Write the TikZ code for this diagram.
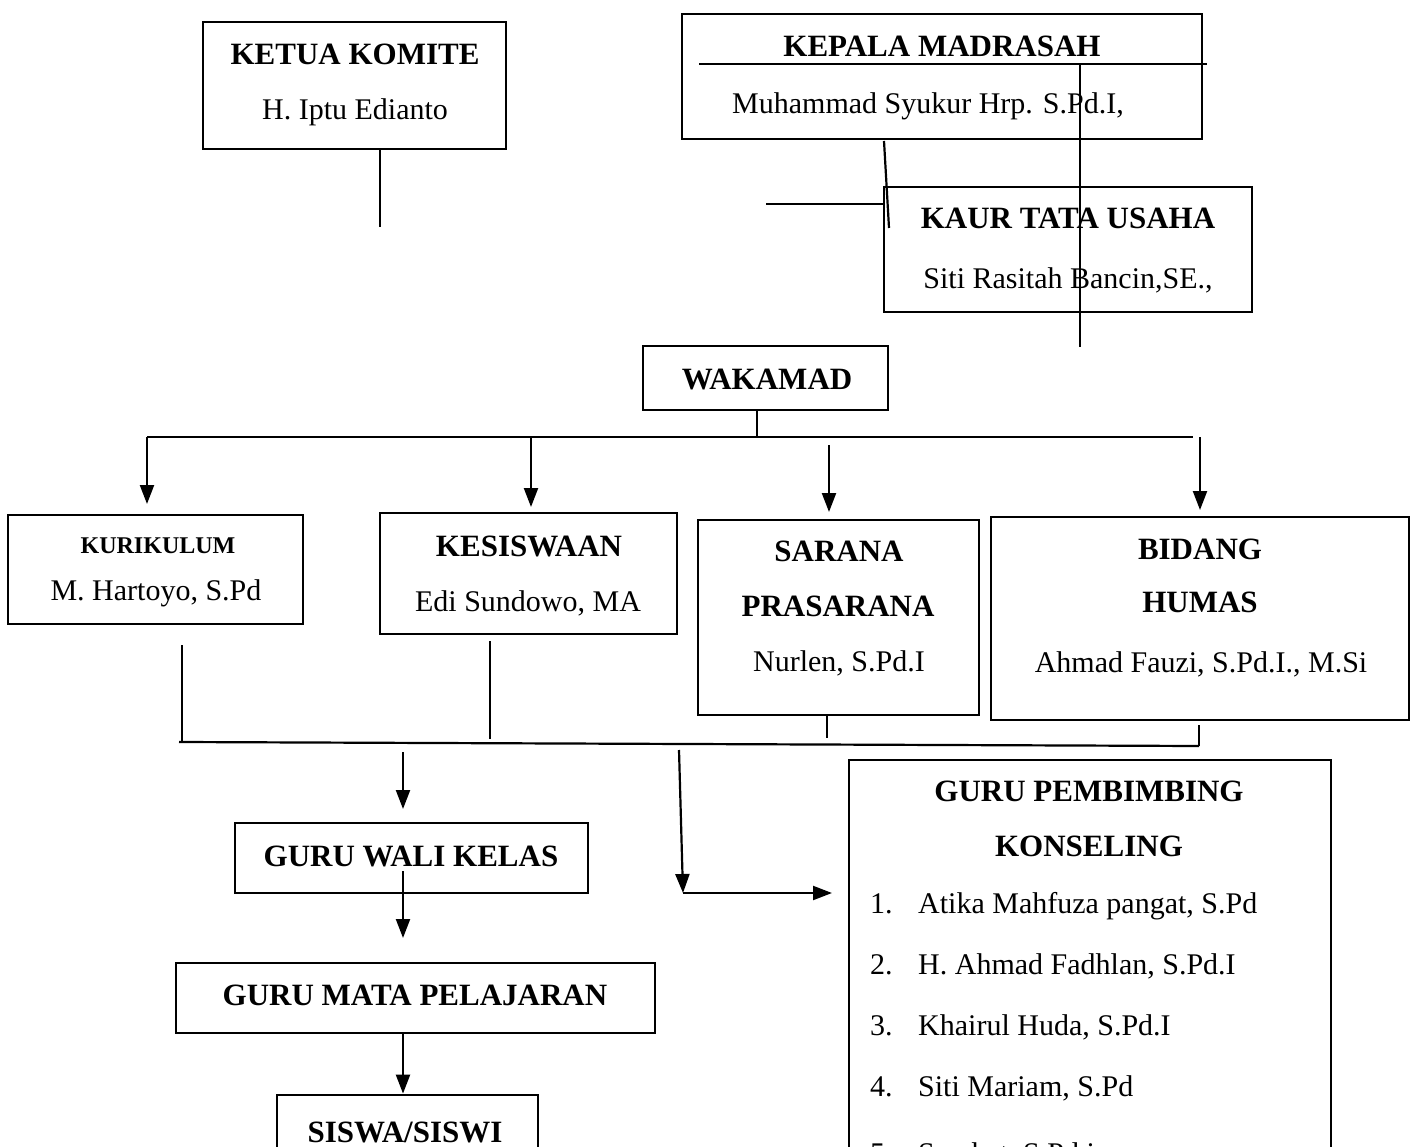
\documentclass[tikz,border=0pt]{standalone}
\usepackage{fontspec}
\setmainfont{Liberation Serif}
\usetikzlibrary{arrows.meta}
\begin{document}
\begin{tikzpicture}[x=1pt,y=-1pt,
  box/.style={draw, line width=2.8pt, inner sep=0pt},
  ln/.style={line width=2.2pt},
  arr/.style={ln, -{Triangle[width=14pt,length=19pt]}},
  tb/.style={font=\fontsize{31}{36}\selectfont\bfseries, anchor=base, inner sep=0pt},
  tbs/.style={font=\fontsize{24}{28}\selectfont\bfseries, anchor=base, inner sep=0pt},
  tr/.style={font=\fontsize{30}{36}\selectfont, anchor=base, inner sep=0pt},
  tl/.style={font=\fontsize{30}{36}\selectfont, anchor=base west, inner sep=0pt}]
\useasboundingbox (0,0) rectangle (1416,1147);
\fill[white] (0,0) rectangle (1416,1147);
\clip (0,0) rectangle (1416,1147);
% boxes
\node[box, minimum width=303pt, minimum height=127pt] (ketua) at (354.5,85.5) {};
\node[box, minimum width=520pt, minimum height=125pt] (kepala) at (942,76.5) {};
\node[box, minimum width=368pt, minimum height=125pt] (kaur) at (1068,249.5) {};
\node[box, minimum width=245pt, minimum height=64pt] (wakamad) at (765.5,378) {};
\node[box, minimum width=295pt, minimum height=109pt] (kurikulum) at (155.5,569.5) {};
\node[box, minimum width=297pt, minimum height=121pt] (kesiswaan) at (528.5,573.5) {};
\node[box, minimum width=281pt, minimum height=195pt] (sarana) at (838.5,617.5) {};
\node[box, minimum width=418pt, minimum height=203pt] (bidang) at (1200,618.5) {};
\node[box, minimum width=353pt, minimum height=70pt] (wali) at (411.5,858) {};
\node[box, minimum width=479pt, minimum height=70pt] (mapel) at (415.5,998) {};
\node[box, minimum width=261pt, minimum height=95pt] (siswa) at (407.5,1142.5) {};
\node[box, minimum width=482pt, minimum height=440pt] (bk) at (1090,980) {};
% texts
\node[tb] (t1) at (355,65) {KETUA KOMITE};
\node[tr] (t2) at (355,120) {H. Iptu Edianto};
\node[tb] (t3) at (942,57) {KEPALA MADRASAH};
\node[tr] (t4) at (928,114) {Muhammad Syukur Hrp. S.Pd.I,};
\node[tb] (t5) at (1068,229) {KAUR TATA USAHA};
\node[tr] (t6) at (1068,289) {Siti Rasitah Bancin,SE.,};
\node[tb] (t7) at (767,389) {WAKAMAD};
\node[tbs] (t8) at (158,553) {KURIKULUM};
\node[tr] (t9) at (156,600) {M. Hartoyo, S.Pd};
\node[tb] (t10) at (529,556) {KESISWAAN};
\node[tr] (t11) at (528,611) {Edi Sundowo, MA};
\node[tb] (t12) at (839,561) {SARANA};
\node[tb] (t13) at (838,616) {PRASARANA};
\node[tr] (t14) at (839,671) {Nurlen, S.Pd.I};
\node[tb] (t15) at (1200,559) {BIDANG};
\node[tb] (t16) at (1200,612) {HUMAS};
\node[tr] (t17) at (1201,672) {Ahmad Fauzi, S.Pd.I., M.Si};
\node[tb] (t18) at (411,866) {GURU WALI KELAS};
\node[tb] (t19) at (415,1005) {GURU MATA PELAJARAN};
\node[tb] (t20) at (405,1142) {SISWA/SISWI};
\node[tb] (t21) at (1089,801) {GURU PEMBIMBING};
\node[tb] (t22) at (1089,856) {KONSELING};
\node[tl] (n1) at (870,913) {1.};
\node[tl] (l1) at (918,913) {Atika Mahfuza pangat, S.Pd};
\node[tl] (n2) at (870,974) {2.};
\node[tl] (l2) at (918,974) {H. Ahmad Fadhlan, S.Pd.I};
\node[tl] (n3) at (870,1035) {3.};
\node[tl] (l3) at (918,1035) {Khairul Huda, S.Pd.I};
\node[tl] (n4) at (870,1096) {4.};
\node[tl] (l4) at (918,1096) {Siti Mariam, S.Pd};
\node[tl] (n5) at (870,1163) {5.};
\node[tl] (l5) at (918,1163) {Sarahat, S.Pd.i};
% coordinates for free ends
\coordinate (c1) at (380,227);
\coordinate (ulA) at (699,64);
\coordinate (ulB) at (1207,64);
\coordinate (vB) at (1080,347);
\coordinate (sA) at (884,141);
\coordinate (sB) at (889,228);
\coordinate (hA) at (766,204);
\coordinate (wb) at (757,437);
\coordinate (busL) at (147,437);
\coordinate (busR) at (1193,437);
\coordinate (a1) at (147,504);
\coordinate (a2s) at (531,437);
\coordinate (a2) at (531,507);
\coordinate (a3s) at (829,445);
\coordinate (a3) at (829,512);
\coordinate (a4s) at (1200,437);
\coordinate (a4) at (1200,510);
\coordinate (d1s) at (182,645);
\coordinate (d1) at (182,742);
\coordinate (d2s) at (490,641);
\coordinate (d2) at (490,739);
\coordinate (d3) at (827,738);
\coordinate (d4) at (1199,746);
\coordinate (bL) at (179,742);
\coordinate (e1s) at (403,752);
\coordinate (e1) at (403,809);
\coordinate (e2s) at (403,871);
\coordinate (e2) at (403,938);
\coordinate (e3) at (403,1095);
\coordinate (f1s) at (679,750);
\coordinate (f1) at (683,893);
\coordinate (f2) at (832,893);
% connectors
\draw[ln] (ketua.south -| c1) -- (c1);
\draw[ln] (ulA) -- (ulB);
\draw[ln] (ulA -| vB) -- (vB);
\draw[ln] (sA) -- (sB);
\draw[ln] (hA) -- (kaur.west |- hA);
\draw[ln] (wakamad.south -| wb) -- (wb);
\draw[ln] (busL) -- (busR);
\draw[arr] (busL) -- (a1);
\draw[arr] (a2s) -- (a2);
\draw[arr] (a3s) -- (a3);
\draw[arr] (a4s) -- (a4);
\draw[ln] (d1s) -- (d1);
\draw[ln] (d2s) -- (d2);
\draw[ln] (sarana.south -| d3) -- (d3);
\draw[ln] (bidang.south -| d4) ++(0,4) -- (d4);
\draw[ln] (bL) -- (d4);
\draw[arr] (e1s) -- (e1);
\draw[arr] (e2s) -- (e2);
\draw[arr] (mapel.south -| e3) -- (siswa.north -| e3);
\draw[arr] (f1s) -- (f1);
\draw[arr] (f1) -- (f2);
\end{tikzpicture}
\end{document}
